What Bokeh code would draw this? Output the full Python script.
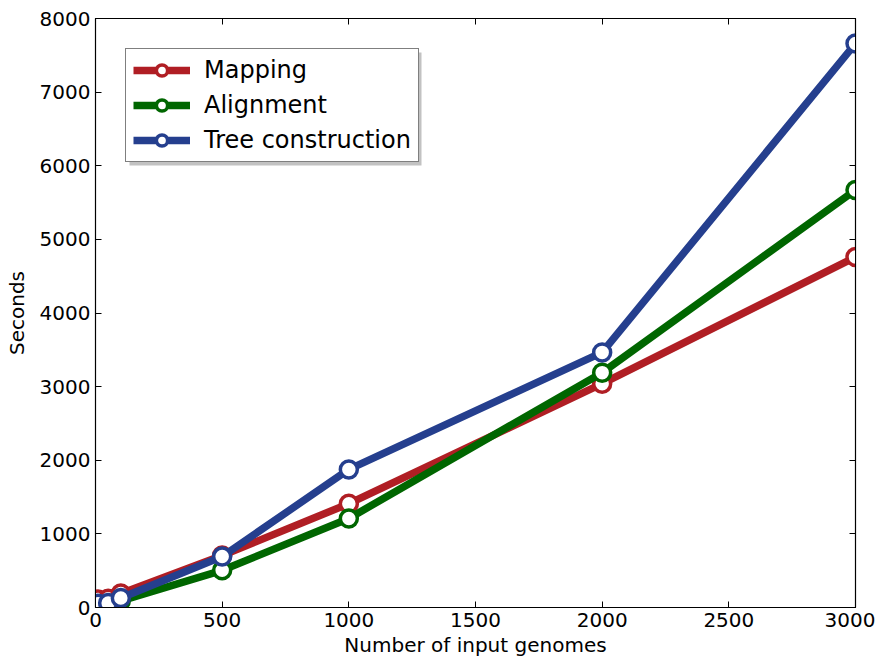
from bokeh.plotting import figure
from bokeh.models import (LinearAxis, SingleIntervalTicker, Range1d, Legend, LegendItem,
                          CustomJSTickFormatter, BoxAnnotation)
from bokeh.embed import file_html
from bokeh.resources import INLINE

genomes = [10, 50, 100, 500, 1000, 2000, 3000]
mapping = [110, 120, 190, 707, 1410, 3040, 4760]
alignment = [40, 50, 90, 505, 1210, 3190, 5670]
tree = [50, 60, 130, 693, 1875, 3465, 7660]

series_names = ["Mapping", "Alignment", "Tree construction"]
series_values = [mapping, alignment, tree]
colors = ["#B01E24", "#006600", "#253F8E"]

FONT = "DejaVu Sans"

p = figure(width=875, height=659, output_backend="svg", toolbar_location=None,
           x_range=Range1d(0, 3000), y_range=Range1d(0, 8000),
           min_border_left=95, min_border_right=20, min_border_top=18, min_border_bottom=52)
p.grid.visible = False
p.outline_line_color = "black"
p.outline_line_width = 1.2
p.background_fill_color = "white"
p.border_fill_color = "white"

xt = SingleIntervalTicker(interval=500)
yt = SingleIntervalTicker(interval=1000)
p.xaxis.ticker = xt
p.yaxis.ticker = yt
p.xaxis.axis_label = "Number of input genomes"
p.yaxis.axis_label = "Seconds"
for ax in (p.xaxis, p.yaxis):
    ax.major_tick_in = 6
    ax.major_tick_out = 0
    ax.minor_tick_in = 0
    ax.minor_tick_out = 0
    ax.major_label_text_font = FONT
    ax.major_label_text_font_size = "20px"
    ax.major_label_text_color = "black"
    ax.axis_label_text_font = FONT
    ax.axis_label_text_font_size = "20px"
    ax.axis_label_text_font_style = "normal"
    ax.axis_label_text_color = "black"
    ax.axis_line_color = "black"
    ax.major_label_standoff = 5
p.xaxis.axis_label_standoff = 3
p.yaxis.axis_label_standoff = 8

blank = CustomJSTickFormatter(code="return '';")
for loc, tk in (("right", yt), ("above", xt)):
    ax = LinearAxis(ticker=tk, major_tick_in=6, major_tick_out=0, minor_tick_in=0,
                    minor_tick_out=0, formatter=blank, major_label_standoff=0)
    p.add_layout(ax, loc)

items = []
for name, vals, c in zip(series_names, series_values, colors):
    l = p.line(genomes, vals, line_color=c, line_width=7.5)
    s = p.scatter(genomes, vals, marker="circle", size=17, fill_color="white",
                  line_color=c, line_width=3.5)
    items.append(LegendItem(label=name, renderers=[l, s]))

# legend drop shadow (frame-relative screen units, y measured up from the frame bottom)
shadow = BoxAnnotation(left=34, right=326, top=555, bottom=442,
                       left_units="screen", right_units="screen",
                       top_units="screen", bottom_units="screen",
                       fill_color="#999999", fill_alpha=0.6, line_alpha=0)
p.add_layout(shadow)

legend = Legend(items=items, location="top_left", margin=30, padding=7,
                spacing=7, glyph_width=57, glyph_height=28,
                label_text_font=FONT, label_text_font_size="24px",
                label_text_color="black",
                border_line_color="black", border_line_width=1.5,
                background_fill_alpha=1.0, label_standoff=14)
p.add_layout(legend)

open("out.html", "w").write(file_html(p, INLINE))
